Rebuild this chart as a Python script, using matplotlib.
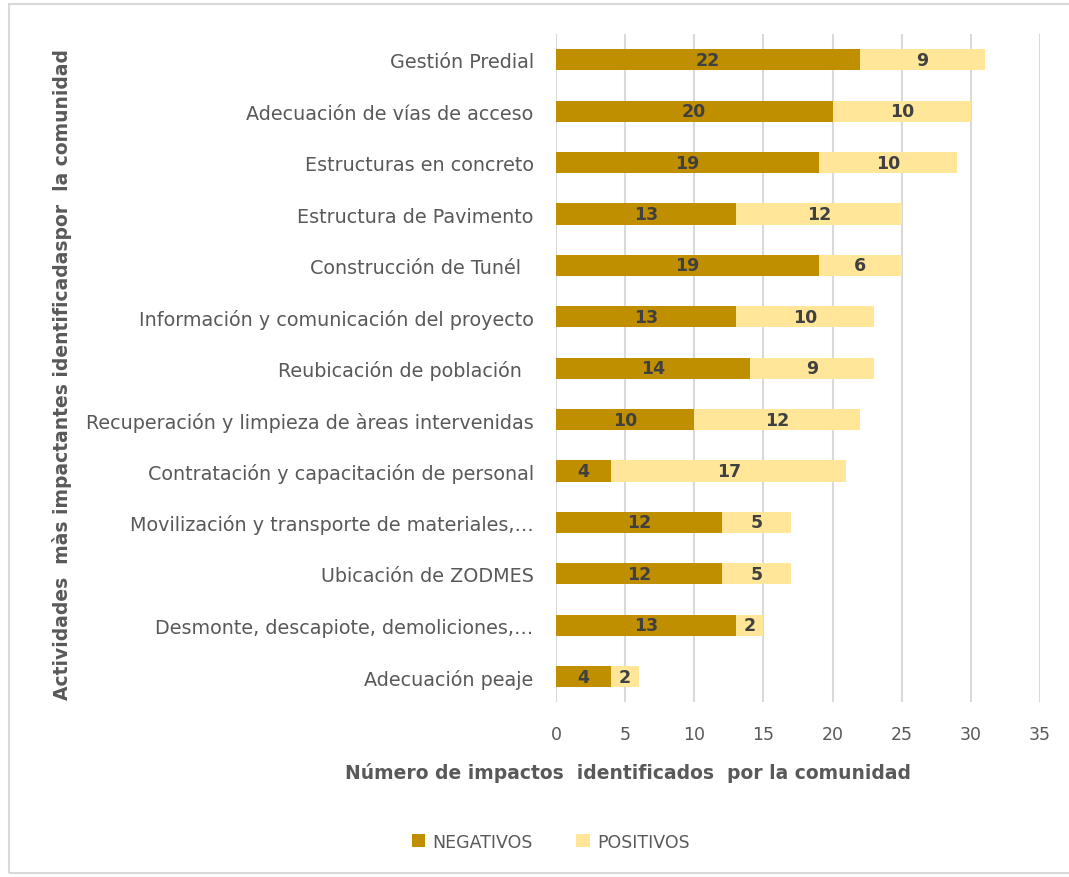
import matplotlib.pyplot as plt
from matplotlib.patches import Rectangle

actividades = [
    'Gestión Predial',
    'Adecuación de vías de acceso',
    'Estructuras en concreto',
    'Estructura de Pavimento',
    'Construcción de Tunél  ',
    'Información y comunicación del proyecto',
    'Reubicación de población  ',
    'Recuperación y limpieza de àreas intervenidas',
    'Contratación y capacitación de personal',
    'Movilización y transporte de materiales,…',
    'Ubicación de ZODMES',
    'Desmonte, descapiote, demoliciones,…',
    'Adecuación peaje',
]
negativos = [22, 20, 19, 13, 19, 13, 14, 10, 4, 12, 12, 13, 4]
positivos = [9, 10, 10, 12, 6, 10, 9, 12, 17, 5, 5, 2, 2]

c_neg = '#BF8F00'
c_pos = '#FFE699'
gris = '#595959'

fig = plt.figure(figsize=(10.69, 8.78), dpi=100)
# marco del grafico
fig.patches.append(Rectangle((0.008, 0.004), 1.2, 0.99, transform=fig.transFigure,
                             fill=False, edgecolor='#D9D9D9', linewidth=1.5))

ax = fig.add_axes([0.520, 0.199, 0.453, 0.761])
y = range(len(actividades))
b1 = ax.barh(y, negativos, height=0.41, color=c_neg, label='NEGATIVOS', zorder=3)
b2 = ax.barh(y, positivos, left=negativos, height=0.41, color=c_pos, label='POSITIVOS', zorder=3)

for rect, v in zip(b1, negativos):
    ax.text(rect.get_x() + rect.get_width() / 2, rect.get_y() + rect.get_height() / 2, str(v),
            ha='center', va='center', fontsize=12.5, fontweight='bold', color='#404040', zorder=4)
for rect, v in zip(b2, positivos):
    ax.text(rect.get_x() + rect.get_width() / 2, rect.get_y() + rect.get_height() / 2, str(v),
            ha='center', va='center', fontsize=12.5, fontweight='bold', color='#404040', zorder=4)

ax.set_ylim(len(actividades) - 0.5, -0.5)
ax.set_xlim(0, 35)
ax.set_xticks(range(0, 36, 5))
ax.set_yticks(list(y))
ax.set_yticklabels(actividades, fontsize=13.8, color=gris)
ax.tick_params(axis='x', labelsize=12.5, labelcolor=gris, length=0, pad=16)
ax.tick_params(axis='y', length=0, pad=16)
ax.grid(axis='x', color='#D9D9D9', linewidth=1.5, zorder=0)
for s in ax.spines.values():
    s.set_visible(False)

fig.text(0.5875, 0.12, 'Número de impactos  identificados  por la comunidad', fontsize=13.5,
         fontweight='bold', color=gris, ha='center', va='center')
fig.text(0.058, 0.573, 'Actividades  màs impactantes identificadaspor  la comunidad',
         rotation=90, ha='center', va='center', fontsize=13.5, fontweight='bold', color=gris)

fig.legend(handles=[b1, b2], loc='center', bbox_to_anchor=(0.515, 0.04), ncol=2,
           frameon=False, fontsize=12.5, labelcolor=gris, handlelength=0.8, handleheight=0.8,
           columnspacing=2.5, handletextpad=0.4)

fig.savefig('out.png', dpi=100)
